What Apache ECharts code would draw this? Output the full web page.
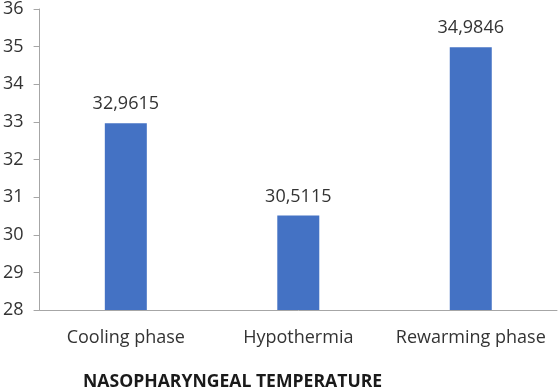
<!DOCTYPE html>
<html>
<head>
    <meta charset="utf-8">
    <title>ECharts</title>
    <script src="https://cdn.jsdelivr.net/npm/echarts@6/dist/echarts.min.js"></script>
</head>
<body style="margin:0">
<div id="main" style="width: 558px;height:388px;"></div>
<script type="text/javascript">
    var categories = ['Cooling phase', 'Hypothermia', 'Rewarming phase'];
    var temperature = [32.9615, 30.5115, 34.9846];
    var chartTitle = 'NASOPHARYNGEAL TEMPERATURE';

    var font = '"Open Sans", Lato, sans-serif';
    var myChart = echarts.init(document.getElementById('main'));

    var option = {
        animation: false,
        textStyle: {fontFamily: font},
        title: {
            text: chartTitle,
            left: 78,
            top: 368,
            textStyle: {fontSize: 17.6, fontWeight: 'bold', color: '#1a1a1a', fontFamily: font}
        },
        grid: {left: 39, right: 1, top: 9, bottom: 78, containLabel: false},
        xAxis: {
            type: 'category',
            data: categories,
            axisLine: {lineStyle: {color: '#a6a6a6', width: 1}},
            axisTick: {show: false},
            axisLabel: {interval: 0, fontSize: 18, color: '#333', margin: 19, fontFamily: font}
        },
        yAxis: {
            type: 'value',
            min: 28,
            max: 36,
            interval: 1,
            splitLine: {show: false},
            axisLine: {show: true, lineStyle: {color: '#a6a6a6', width: 1}},
            axisTick: {show: true, length: 6, lineStyle: {color: '#a6a6a6'}},
            axisLabel: {fontSize: 18, color: '#333', margin: 16, fontFamily: font}
        },
        series: [{
            type: 'bar',
            data: temperature,
            barWidth: 42,
            itemStyle: {color: '#4472c4'},
            label: {
                show: true,
                position: 'top',
                distance: 10,
                fontSize: 18,
                color: '#333',
                fontFamily: font,
                formatter: function (p) {
                    return p.value.toFixed(4).replace('.', ',');
                }
            }
        }]
    };

    myChart.setOption(option);
</script>
</body>
</html>
